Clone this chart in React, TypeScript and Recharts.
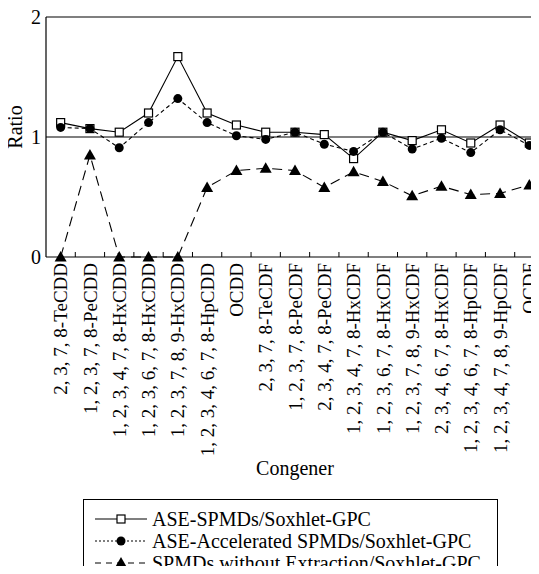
import React from "react";
import { LineChart, Line, XAxis, YAxis, ReferenceLine } from "recharts";

const CONGENERS = [
  "2, 3, 7, 8-TeCDD",
  "1, 2, 3, 7, 8-PeCDD",
  "1, 2, 3, 4, 7, 8-HxCDD",
  "1, 2, 3, 6, 7, 8-HxCDD",
  "1, 2, 3, 7, 8, 9-HxCDD",
  "1, 2, 3, 4, 6, 7, 8-HpCDD",
  "OCDD",
  "2, 3, 7, 8-TeCDF",
  "1, 2, 3, 7, 8-PeCDF",
  "2, 3, 4, 7, 8-PeCDF",
  "1, 2, 3, 4, 7, 8-HxCDF",
  "1, 2, 3, 6, 7, 8-HxCDF",
  "1, 2, 3, 7, 8, 9-HxCDF",
  "2, 3, 4, 6, 7, 8-HxCDF",
  "1, 2, 3, 4, 6, 7, 8-HpCDF",
  "1, 2, 3, 4, 7, 8, 9-HpCDF",
  "OCDF",
];

const ASE_SPMD = [1.12, 1.07, 1.04, 1.2, 1.67, 1.2, 1.1, 1.04, 1.04, 1.02, 0.82, 1.04, 0.97, 1.06, 0.95, 1.1, 0.95];
const ASE_ACCEL = [1.08, 1.07, 0.91, 1.12, 1.32, 1.12, 1.01, 0.98, 1.04, 0.94, 0.88, 1.04, 0.9, 0.99, 0.87, 1.06, 0.93];
const NO_EXTRACTION = [0, 0.85, 0, 0, 0, 0.58, 0.72, 0.74, 0.72, 0.58, 0.71, 0.63, 0.51, 0.59, 0.52, 0.53, 0.6];

const Y_TICKS = [0, 1, 2];

const LEGEND = [
  { label: "ASE-SPMDs/Soxhlet-GPC", dash: undefined, marker: "square" },
  { label: "ASE-Accelerated SPMDs/Soxhlet-GPC", dash: "2 2", marker: "circle" },
  { label: "SPMDs without Extraction/Soxhlet-GPC", dash: "6 5", marker: "triangle" },
];

const FONT = "Liberation Serif, DejaVu Serif, serif";

const data = CONGENERS.map((name, i) => ({
  name,
  ase: ASE_SPMD[i],
  accel: ASE_ACCEL[i],
  noExt: NO_EXTRACTION[i],
}));

function marker(kind: string, cx: number, cy: number, key?: any) {
  if (kind === "square")
    return <rect key={key} x={cx - 4} y={cy - 4} width={8} height={8} fill="#fff" stroke="#000" strokeWidth={1.2} />;
  if (kind === "circle") return <circle key={key} cx={cx} cy={cy} r={4.5} fill="#000" />;
  return (
    <polygon
      key={key}
      points={`${cx},${cy - 6} ${cx - 6},${cy + 4.5} ${cx + 6},${cy + 4.5}`}
      fill="#000"
    />
  );
}

const dotOf = (kind: string) => (p: any) =>
  p.cx == null || p.cy == null ? <g key={p.index} /> : marker(kind, p.cx, p.cy, p.index);

// rotated congener label plus a small inward tick on the left band edge
function CongenerTick(props: any) {
  const { x, y, payload, index, width, visibleTicksCount } = props;
  const half = payload.offset || width / visibleTicksCount / 2;
  const axisY = y - 6;
  return (
    <g>
      {index > 0 && (
        <line x1={x - half} x2={x - half} y1={axisY} y2={axisY - 5} stroke="#000" />
      )}
      <text
        x={x}
        y={y}
        transform={`rotate(-90, ${x}, ${y})`}
        textAnchor="end"
        dy="0.35em"
        style={{ fontFamily: FONT, fontSize: 19 }}
        fill="#000"
      >
        {payload.value}
      </text>
    </g>
  );
}

export default function App() {
  return (
    <div
      style={{
        position: "relative",
        width: 539,
        height: 574,
        overflow: "hidden",
        margin: -8,
        background: "#fff",
        fontFamily: FONT,
      }}
    >
      <LineChart
        width={560}
        height={574}
        data={data}
        margin={{ top: 17, right: 16, bottom: 117, left: 0 }}
        style={{ fontFamily: FONT }}
      >
        <XAxis
          dataKey="name"
          scale="band"
          interval={0}
          height={200}
          tickLine={false}
          tickSize={0}
          tickMargin={6}
          axisLine={{ stroke: "#000", strokeWidth: 1.2 }}
          tick={<CongenerTick />}
          label={{
            content: (p: any) => {
              const vb = p.viewBox;
              return (
                <text x={vb.x + vb.width / 2} y={vb.y + 211} textAnchor="middle" dy="0.35em" style={{ fontFamily: FONT, fontSize: 20 }} fill="#000">
                  Congener
                </text>
              );
            },
          }}
        />
        <YAxis
          domain={[0, 2]}
          ticks={Y_TICKS}
          width={46}
          tickLine={false}
          tickSize={0}
          tickMargin={5}
          axisLine={{ stroke: "#000", strokeWidth: 1.2 }}
          tick={{ fontSize: 20, fill: "#000", style: { fontFamily: FONT } }}
          label={{
            content: (p: any) => {
              const vb = p.viewBox;
              const cx = vb.x + 15;
              const cy = vb.y + vb.height / 2 - 10;
              return (
                <text x={cx} y={cy} transform={`rotate(-90, ${cx}, ${cy})`} textAnchor="middle" dy="0.35em" style={{ fontFamily: FONT, fontSize: 20 }} fill="#000">
                  Ratio
                </text>
              );
            },
          }}
        />
        <ReferenceLine y={2} stroke="#000" strokeWidth={1.2} />
        <ReferenceLine y={1} stroke="#000" strokeWidth={1.2} />
        <Line
          dataKey="noExt"
          stroke="#000"
          strokeWidth={1.1}
          strokeDasharray="10 6"
          dot={dotOf("triangle")}
          isAnimationActive={false}
        />
        <Line
          dataKey="ase"
          stroke="#000"
          strokeWidth={1.1}
          dot={dotOf("square")}
          isAnimationActive={false}
        />
        <Line
          dataKey="accel"
          stroke="#000"
          strokeWidth={1.1}
          strokeDasharray="4 3"
          dot={dotOf("circle")}
          isAnimationActive={false}
        />
      </LineChart>
      <div
        style={{
          position: "absolute",
          left: 83,
          top: 499,
          width: 415,
          height: 100,
          border: "1px solid #000",
          boxSizing: "border-box",
          paddingTop: 8,
        }}
      >
        {LEGEND.map((s) => (
          <div key={s.label} style={{ display: "flex", alignItems: "center", height: 22 }}>
            <svg width={58} height={22} style={{ marginLeft: 10, flex: "none" }}>
              <line x1={1} x2={53} y1={11} y2={11} stroke="#000" strokeWidth={1.1} strokeDasharray={s.dash} />
              {marker(s.marker, 27, 11)}
            </svg>
            <span style={{ fontSize: 20, lineHeight: "22px", whiteSpace: "nowrap", color: "#000" }}>{s.label}</span>
          </div>
        ))}
      </div>
    </div>
  );
}
